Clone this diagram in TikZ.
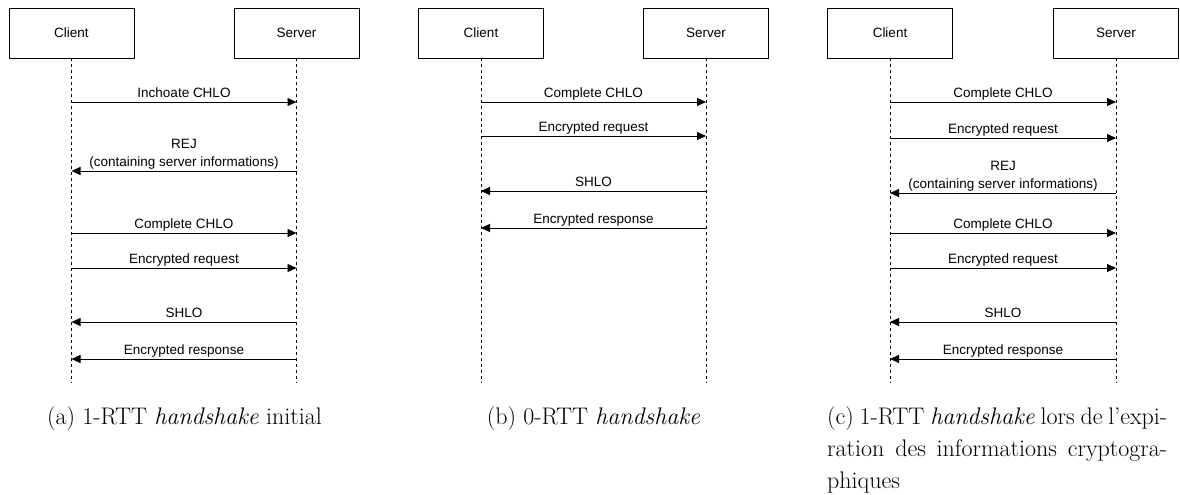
\documentclass[tikz,border=0pt]{standalone}
\usepackage{fontspec}
\newfontfamily\lblfont{Liberation Sans}
\usetikzlibrary{arrows.meta}

\begin{document}
\begin{tikzpicture}[x=1pt,y=-1pt]
\useasboundingbox (0,0) rectangle (1180,495);
% actor boxes
\begin{scope}[every node/.style={rectangle,draw,line width=0.9pt,minimum width=125pt,minimum height=50pt,
              font=\lblfont\fontsize{13.5}{16}\selectfont}]
  \node (clA) at (71.5,33) {Client};
    \node (srvA) at (296.5,33) {Server};
  \node (clB) at (481,33) {Client};
    \node (srvB) at (706,33) {Server};
  \node (clC) at (890,33) {Client};
    \node (srvC) at (1116,33) {Server};
\end{scope}

% lifelines
\begin{scope}[line width=0.9pt, dash pattern=on 3pt off 3pt]
  \foreach \n in {clA,srvA,clB,srvB,clC,srvC}
    \draw (\n) -- (\n |- 0,383);
\end{scope}

% messages
\begin{scope}[>={Triangle[length=9pt,width=8pt]},
              every node/.style={font=\lblfont\fontsize{13.5}{17.5}\selectfont,align=center,anchor=base,yshift=5pt},
              every edge/.style={draw=black, line width=0.9pt}]
    \path[->] (clA |- 0,102) edge node {Inchoate CHLO} (srvA |- 0,102);
    \path[->] (srvA |- 0,171) edge node {REJ\\(containing server informations)} (clA |- 0,171);
    \path[->] (clA |- 0,233) edge node {Complete CHLO} (srvA |- 0,233);
    \path[->] (clA |- 0,268) edge node {Encrypted request} (srvA |- 0,268);
    \path[->] (srvA |- 0,322) edge node {SHLO} (clA |- 0,322);
    \path[->] (srvA |- 0,359) edge node {Encrypted response} (clA |- 0,359);

    \path[->] (clB |- 0,102) edge node {Complete CHLO} (srvB |- 0,102);
    \path[->] (clB |- 0,136) edge node {Encrypted request} (srvB |- 0,136);
    \path[->] (srvB |- 0,191) edge node {SHLO} (clB |- 0,191);
    \path[->] (srvB |- 0,228) edge node {Encrypted response} (clB |- 0,228);

    \path[->] (clC |- 0,102) edge node {Complete CHLO} (srvC |- 0,102);
    \path[->] (clC |- 0,138) edge node {Encrypted request} (srvC |- 0,138);
    \path[->] (srvC |- 0,193) edge node {REJ\\(containing server informations)} (clC |- 0,193);
    \path[->] (clC |- 0,233) edge node {Complete CHLO} (srvC |- 0,233);
    \path[->] (clC |- 0,268) edge node {Encrypted request} (srvC |- 0,268);
    \path[->] (srvC |- 0,322) edge node {SHLO} (clC |- 0,322);
    \path[->] (srvC |- 0,359) edge node {Encrypted response} (clC |- 0,359);
\end{scope}

% sub-captions
\begin{scope}[every node/.style={font=\fontsize{24}{32}\selectfont,inner sep=0pt}]
  \node[anchor=base] (capA) at (184.5,424) {(a) 1-RTT \emph{handshake} initial};
  \node[anchor=base] (capB) at (593.5,424) {(b) 0-RTT \emph{handshake}};
  \node[anchor=base west,text width=340pt,align=justify] (capC) at (827,424)
    {(c) 1-RTT \emph{handshake} lors de l'expi-\linebreak ration des informations cryptogra-\linebreak phiques};
\end{scope}
\end{tikzpicture}
\end{document}
